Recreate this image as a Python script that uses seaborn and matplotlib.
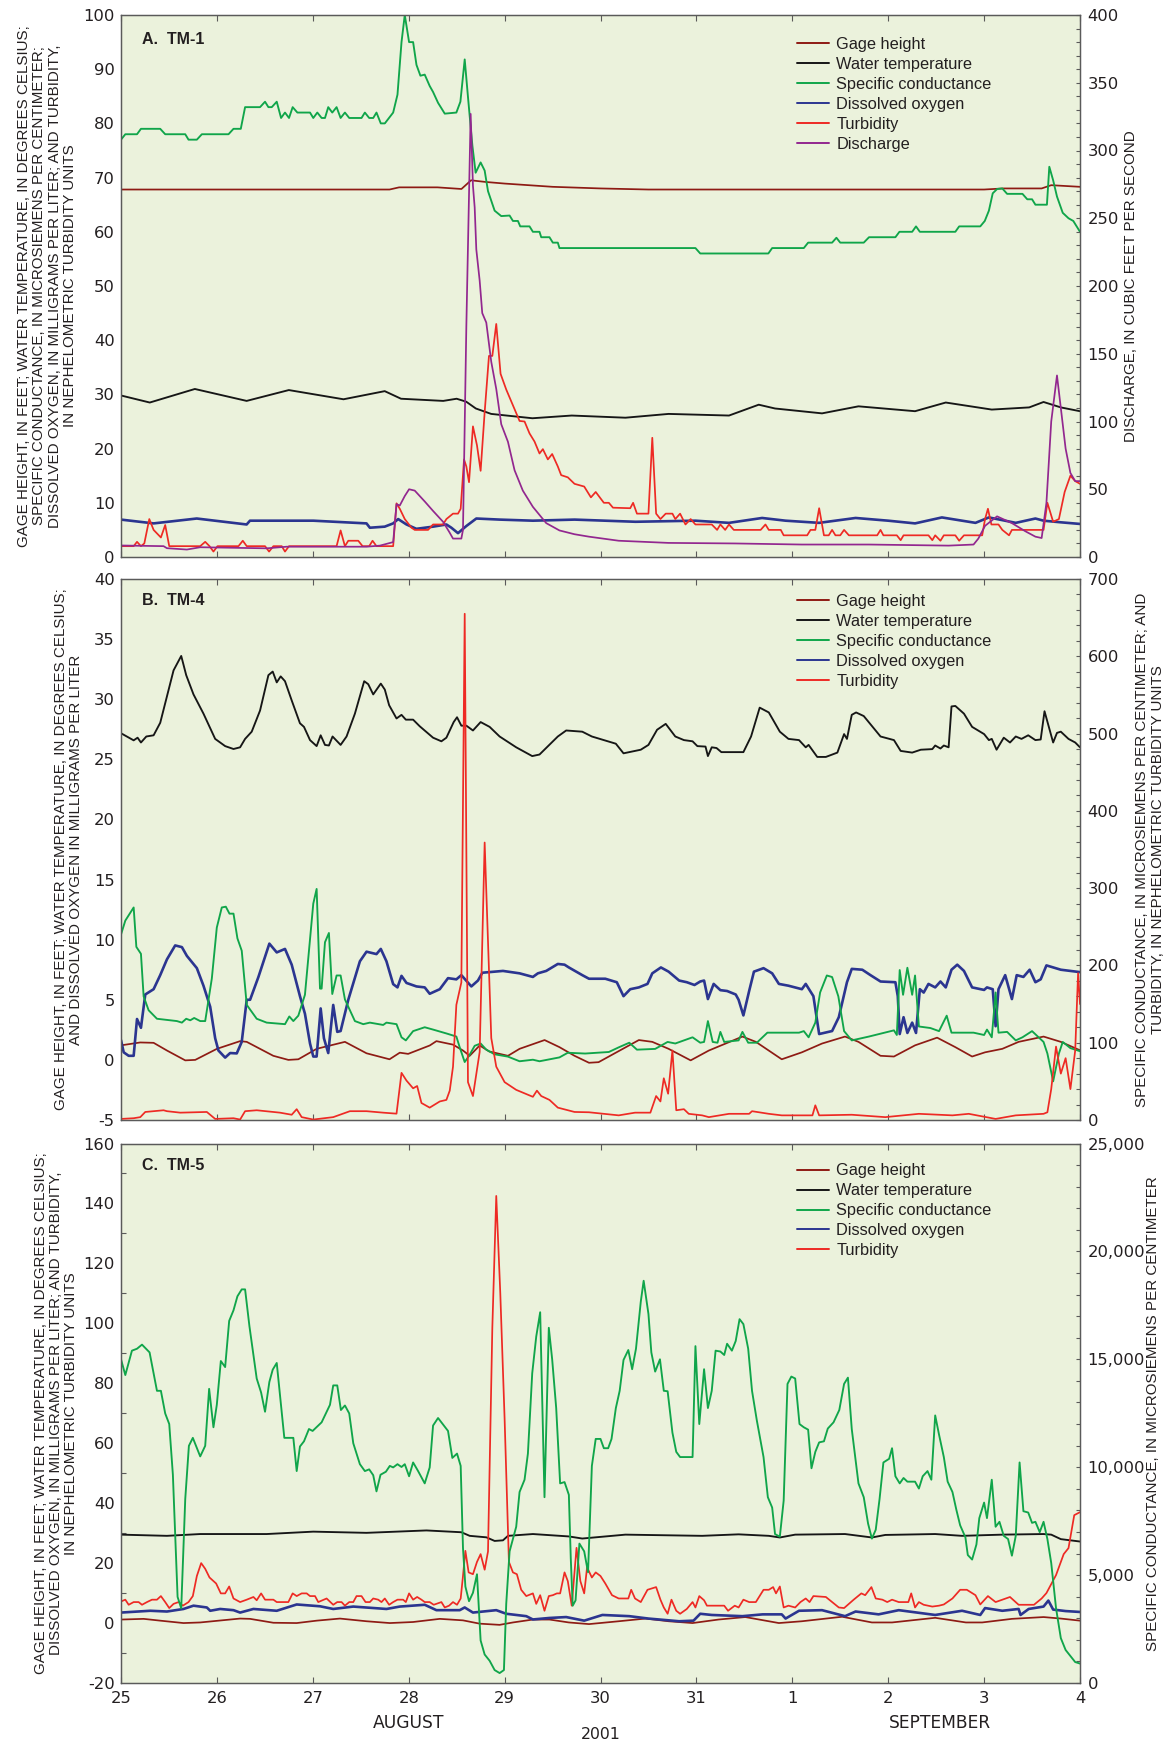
import matplotlib
matplotlib.use("Agg")
import matplotlib.pyplot as plt
import seaborn as sns
from matplotlib import font_manager as fm
from matplotlib.lines import Line2D
from matplotlib.ticker import MultipleLocator, FixedLocator, FuncFormatter

# ---------------- DATA (days after 25 Aug 2001, 00:00) ----------------
X_TICK_LABELS = ["25", "26", "27", "28", "29", "30", "31", "1", "2", "3", "4"]

# ---- Panel A: TM-1 ----
A_gage_t = [0, 2.8, 2.9, 3.3, 3.55, 3.65, 3.8, 4.0, 4.5, 5.0, 5.5, 9.0, 9.2, 9.6, 9.7, 9.8, 10]
A_gage_v = [67.8, 67.8, 68.2, 68.2, 67.9, 69.5, 69.2, 68.9, 68.3, 68.0, 67.8, 67.8, 68.0, 68.0, 68.6, 68.5, 68.3]

A_temp_t = [0, 0.3, 0.77, 1.31, 1.75, 2.32, 2.75, 2.92, 3.36, 3.5, 3.6, 3.7, 3.86, 4.29, 4.7, 5.26, 5.71, 6.34,
            6.65, 6.82, 7.31, 7.69, 8.28, 8.6, 9.08, 9.47, 9.62, 9.8, 10]
A_temp_v = [29.8, 28.5, 31.0, 28.8, 30.8, 29.1, 30.6, 29.2, 28.8, 29.2, 28.65, 27.4, 26.4, 25.6, 26.1, 25.7, 26.4,
            26.1, 28.1, 27.4, 26.5, 27.8, 26.9, 28.5, 27.2, 27.6, 28.6, 27.6, 26.9]

A_sc_t = [0, 0.045, 0.167, 0.208, 0.409, 0.461, 0.670, 0.704, 0.791, 0.843,
          1.121, 1.173, 1.249, 1.294, 1.450, 1.502, 1.537, 1.572, 1.624, 1.669,
          1.710, 1.752, 1.790, 1.839, 1.971, 2.005, 2.047, 2.092, 2.127, 2.161,
          2.203, 2.248, 2.290, 2.335, 2.380, 2.508, 2.543, 2.588, 2.630, 2.664,
          2.709, 2.751, 2.838, 2.883, 2.925, 2.959, 3.004, 3.046, 3.081, 3.122,
          3.167, 3.219, 3.254, 3.306, 3.376, 3.497, 3.539, 3.584, 3.618, 3.664,
          3.698, 3.750, 3.792, 3.827, 3.896, 3.965, 4.052, 4.087, 4.139, 4.163,
          4.260, 4.295, 4.364, 4.382, 4.468, 4.503, 4.555, 4.572, 5.99, 6.04,
          6.75, 6.79, 7.12, 7.165, 7.415, 7.46, 7.50, 7.745, 7.80, 8.075,
          8.117, 8.25, 8.29, 8.33, 8.70, 8.74, 8.96, 9.007, 9.05, 9.09,
          9.136, 9.19, 9.24, 9.40, 9.45, 9.50, 9.535, 9.655, 9.68, 9.72,
          9.76, 9.82, 9.88, 9.93, 10]
A_sc_v = [77, 78, 78, 79, 79, 78, 78, 77, 77, 78,
          78, 79, 79, 83, 83, 84, 83, 83, 84, 81,
          82, 81, 83, 82, 82, 81, 82, 81, 81, 83,
          82, 83, 81, 82, 81, 81, 82, 81, 81, 82,
          80, 80, 82, 85.3, 95, 100, 95, 95, 90.8, 88.8,
          89, 86.9, 85.8, 83.8, 81.8, 82, 84, 91.8, 84.9, 75.9,
          70.9, 72.8, 71.3, 67.5, 63.9, 62.9, 63, 62, 62, 61,
          61, 60, 60, 59, 59, 58, 58, 57, 57, 56,
          56, 57, 57, 58, 58, 58.9, 58, 58, 59, 59,
          60, 60, 61, 60, 60, 61, 61, 62, 63.9, 67.1,
          67.9, 68, 67, 67, 66, 66, 65, 65, 72, 69.5,
          66.5, 63.5, 62.5, 62, 60]

A_do_t = [0, 0.34, 0.79, 1.31, 1.345, 2.005, 2.56, 2.595, 2.75, 2.838, 2.89, 2.977, 3.08, 3.254, 3.393, 3.445,
          3.514, 3.60, 3.705, 3.95, 4.295, 4.73, 5.365, 5.99, 6.34, 6.685, 6.93, 7.28, 7.66, 8.0, 8.28, 8.56,
          8.91, 9.05, 9.33, 9.535, 9.62, 9.8, 10]
A_do_v = [6.9, 6.2, 7.1, 6.0, 6.7, 6.7, 6.2, 5.4, 5.6, 6.2, 7.0, 6.0, 5.2, 5.6, 6.0, 5.4, 4.4, 5.7, 7.1, 6.9,
          6.7, 6.9, 6.5, 6.7, 6.3, 7.2, 6.7, 6.3, 7.2, 6.7, 6.2, 7.3, 6.3, 7.3, 6.3, 7.1, 6.7, 6.4, 6.1]

A_turb_t = [0, 0.132, 0.167, 0.208, 0.243, 0.295, 0.340, 0.416, 0.461, 0.503,
            0.826, 0.878, 0.923, 0.964, 1.006, 1.225, 1.270, 1.311, 1.502, 1.544,
            1.589, 1.676, 1.710, 1.752, 2.248, 2.290, 2.335, 2.370, 2.474, 2.519,
            2.588, 2.623, 2.664, 2.838, 2.873, 2.907, 2.959, 3.029, 3.063, 3.202,
            3.254, 3.358, 3.393, 3.462, 3.514, 3.542, 3.577, 3.601, 3.629, 3.670,
            3.712, 3.750, 3.792, 3.837, 3.872, 3.913, 3.958, 4.017, 4.087, 4.156,
            4.208, 4.260, 4.312, 4.364, 4.399, 4.451, 4.496, 4.555, 4.590, 4.659,
            4.729, 4.83, 4.90, 4.95, 5.035, 5.087, 5.13, 5.31, 5.34, 5.38,
            5.50, 5.54, 5.58, 5.625, 5.68, 5.75, 5.78, 5.83, 5.886, 5.94,
            5.99, 6.16, 6.216, 6.25, 6.30, 6.34, 6.39, 6.67, 6.72, 6.755,
            6.88, 6.91, 7.155, 7.19, 7.24, 7.28, 7.33, 7.38, 7.415, 7.45,
            7.50, 7.54, 7.59, 7.885, 7.92, 7.95, 8.09, 8.13, 8.16, 8.42,
            8.46, 8.49, 8.545, 8.58, 8.70, 8.74, 8.79, 8.98, 9.01, 9.04,
            9.076, 9.15, 9.19, 9.26, 9.29, 9.62, 9.66, 9.72, 9.78, 9.84,
            9.9, 9.95, 10]
A_turb_v = [2, 2, 2.8, 2, 2.5, 7, 5, 3.6, 5.9, 2,
            2, 2.8, 2, 1, 2, 2, 3, 2, 2, 1,
            2, 2, 1, 2, 2, 4.9, 2, 3, 3, 2,
            2, 3, 2, 2, 9.9, 8.9, 7, 5.4, 5, 5,
            6, 6, 7, 8, 8, 8.9, 18, 16.7, 13.8, 24.1,
            20.6, 15.9, 26.7, 37.1, 37.1, 43, 33.8, 30.9, 28, 25.1,
            25, 22.8, 21.3, 19.1, 19.9, 18, 19, 16.7, 15.1, 14.7,
            13.5, 13, 11, 12, 10, 10, 9.1, 9, 10, 8,
            8, 22, 8, 7, 8, 8, 7, 8, 6, 7,
            6, 6, 5, 6, 5, 6, 5, 5, 6, 5,
            5, 4, 4, 5, 5, 9, 4, 4, 5, 4,
            4, 5, 4, 4, 5, 4, 4, 3.1, 4, 4,
            3.1, 4, 3, 4, 4, 3, 4, 4, 7, 8.9,
            6, 6, 5, 4, 5, 5, 10, 6.5, 7, 12,
            15, 14, 13.5]

A_dis_t = [0, 0.444, 0.479, 0.687, 0.826, 1.519, 1.728, 2.56, 2.70, 2.838,
           2.873, 2.907, 2.959, 3.004, 3.063, 3.167, 3.254, 3.358, 3.427, 3.462,
           3.549, 3.566, 3.601, 3.646, 3.670, 3.688, 3.705, 3.74, 3.767, 3.809,
           3.861, 3.913, 3.965, 4.035, 4.104, 4.19, 4.295, 4.434, 4.572, 4.729,
           4.88, 5.19, 5.71, 6.40, 7.10, 7.80, 8.63, 8.89, 8.94, 9.01,
           9.135, 9.29, 9.43, 9.535, 9.6, 9.65, 9.7, 9.76, 9.8, 9.85,
           9.9, 9.95, 10]
A_dis_v = [8.5, 8, 6.5, 5.5, 7.2, 6.4, 7.6, 7.6, 8.4, 11,
           39, 38, 45, 50, 49, 41, 34, 26, 18, 13.6,
           13.6, 20, 170, 327, 274, 258, 227, 204, 180, 173,
           144, 124, 98, 85, 64, 49, 37, 25, 19.6, 16.8,
           15, 12, 10.4, 10, 9.2, 9.2, 8.4, 9.2, 13.6, 23,
           30, 25, 19, 15, 14, 40, 100, 134, 110, 80,
           62, 56, 56]

# ---- Panel B: TM-4 ----
B_gage_t = [0, 0.2, 0.34, 0.479, 0.67, 0.774, 1.0, 1.242, 1.311, 1.588,
            1.745, 1.849, 2.04, 2.335, 2.56, 2.80, 2.907, 2.994, 3.22, 3.289,
            3.462, 3.566, 3.636, 3.74, 3.84, 4.035, 4.156, 4.417, 4.572, 4.729,
            4.88, 4.98, 5.16, 5.40, 5.54, 5.71, 5.94, 6.13, 6.48, 6.62,
            6.89, 7.10, 7.31, 7.55, 7.69, 7.92, 8.06, 8.28, 8.51, 8.70,
            8.875, 9.01, 9.19, 9.36, 9.62, 9.8, 10]
B_gage_v = [1.21, 1.45, 1.42, 0.78, -0.04, 0, 0.92, 1.56, 1.5, 0.34,
            0, 0.05, 0.92, 1.5, 0.55, 0.05, 0.6, 0.5, 1.2, 1.56,
            1.27, 0.78, 0.34, 1.2, 0.7, 0.34, 0.92, 1.65, 1.06, 0.34,
            -0.24, -0.19, 0.6, 1.65, 1.5, 0.92, -0.04, 0.78, 1.94, 1.5,
            0.05, 0.63, 1.36, 1.94, 1.5, 0.34, 0.28, 1.21, 1.85, 1.06,
            0.28, 0.63, 0.92, 1.5, 1.94, 1.5, 0.8]

B_temp_t = [0, 0.132, 0.173, 0.208, 0.264, 0.340, 0.409, 0.479, 0.548, 0.628,
            0.680, 0.756, 0.860, 0.982, 1.086, 1.173, 1.242, 1.294, 1.363, 1.450,
            1.537, 1.582, 1.624, 1.665, 1.710, 1.780, 1.866, 1.908, 1.971, 2.040,
            2.082, 2.127, 2.168, 2.206, 2.290, 2.352, 2.439, 2.536, 2.578, 2.630,
            2.709, 2.751, 2.796, 2.873, 2.925, 2.970, 3.046, 3.115, 3.254, 3.341,
            3.393, 3.469, 3.504, 3.549, 3.601, 3.670, 3.750, 3.844, 3.948, 4.121,
            4.288, 4.364, 4.555, 4.642,
            4.81, 4.91, 5.16, 5.24, 5.42, 5.50, 5.59, 5.68, 5.78, 5.87,
            5.96, 6.01, 6.095, 6.12, 6.16, 6.21, 6.26, 6.49, 6.57, 6.66,
            6.755, 6.87, 6.96, 7.07, 7.14, 7.17, 7.26, 7.35, 7.47, 7.54,
            7.57, 7.62, 7.665, 7.745, 7.92, 8.06, 8.13, 8.25, 8.34, 8.46,
            8.49, 8.545, 8.58, 8.63, 8.66, 8.70, 8.79, 8.875, 9.0, 9.05,
            9.08, 9.13, 9.205, 9.27, 9.33, 9.39, 9.46, 9.535, 9.59, 9.63,
            9.72, 9.76, 9.80, 9.88, 9.95, 10]
B_temp_v = [27.17, 26.58, 26.8, 26.4, 26.9, 27.0, 28.04, 30.23, 32.4, 33.6,
            32.0, 30.4, 28.8, 26.7, 26.1, 25.86, 26.0, 26.7, 27.3, 29.06,
            32.0, 32.3, 31.4, 31.9, 31.5, 29.9, 28.0, 27.7, 26.6, 26.1,
            27.0, 26.2, 26.15, 26.9, 26.2, 26.9, 28.8, 31.5, 31.25, 30.4,
            31.3, 30.8, 29.5, 28.4, 28.7, 28.3, 28.3, 27.75, 26.8, 26.5,
            26.8, 28.1, 28.5, 27.8, 27.8, 27.4, 28.1, 27.7, 26.9, 26.0,
            25.27, 25.4, 26.9, 27.4,
            27.3, 26.9, 26.3, 25.5, 25.8, 26.2, 27.46, 27.95, 26.9, 26.6,
            26.5, 26.1, 26.06, 25.27, 26.0, 25.94, 25.6, 25.6, 26.9, 29.3,
            28.9, 27.3, 26.7, 26.6, 26.0, 26.2, 25.2, 25.2, 25.56, 27.1,
            26.7, 28.7, 28.9, 28.6, 26.9, 26.6, 25.7, 25.56, 25.8, 25.85,
            26.15, 25.9, 26.15, 26.0, 29.4, 29.44, 28.8, 27.7, 27.1, 26.6,
            26.7, 25.8, 26.8, 26.4, 26.9, 26.7, 27.0, 26.6, 26.65, 29.0,
            26.4, 27.2, 27.3, 26.7, 26.4, 26.0]

# specific conductance (microsiemens per centimeter, right axis)
B_sc_t = [0, 0.045, 0.132, 0.160, 0.208, 0.236, 0.288, 0.375, 0.583, 0.635,
          0.680, 0.722, 0.763, 0.826, 0.878, 0.947, 0.999, 1.051, 1.093, 1.131,
          1.173, 1.214, 1.259, 1.311, 1.415, 1.519, 1.710, 1.755, 1.797, 1.849,
          1.918, 1.964, 2.005, 2.040, 2.075, 2.092, 2.127, 2.168, 2.203, 2.248,
          2.290, 2.335, 2.439, 2.526, 2.595, 2.734, 2.768, 2.873, 2.925, 2.970,
          3.046, 3.167, 3.254, 3.393, 3.497, 3.532, 3.584, 3.629, 3.688, 3.750,
          3.809, 3.896, 4.035, 4.156, 4.295, 4.364, 4.572, 4.659,
          4.84, 5.087, 5.19, 5.30, 5.38, 5.57, 5.70, 5.78, 5.87, 5.96,
          6.04, 6.08, 6.12, 6.17, 6.22, 6.25, 6.29, 6.44, 6.48, 6.54,
          6.63, 6.74, 6.89, 7.07, 7.12, 7.17, 7.24, 7.29, 7.36, 7.415,
          7.48, 7.54, 7.62, 7.80, 8.06, 8.09, 8.12, 8.155, 8.20, 8.25,
          8.28, 8.32, 8.44, 8.53, 8.61, 8.66, 8.89, 9.0, 9.03, 9.08,
          9.12, 9.15, 9.24, 9.33, 9.40, 9.50, 9.62, 9.66, 9.72, 9.78,
          9.82, 9.9, 10]
B_sc_v = [240, 258, 275, 224, 215, 160, 142, 131, 128, 126,
          131, 129, 132, 128, 128, 183, 249, 275, 276, 267,
          267, 235, 219, 149, 131, 126, 124, 134, 128, 135,
          162, 224, 280, 299, 170, 170, 230, 242, 163, 187,
          187, 156, 128, 124, 126, 123, 126, 124, 107, 103,
          115, 120, 117, 112, 108, 94, 75, 83, 96, 99,
          91, 85, 82, 76, 78, 76, 81, 87,
          86, 88, 94, 100, 91, 92, 101, 99, 103, 107,
          100, 101, 128, 101, 100, 114, 101, 103, 114, 100,
          100, 113, 113, 113, 115, 107, 126, 165, 187, 185,
          160, 115, 103, 108, 116, 110, 194, 162, 197, 162,
          187, 121, 119, 115, 135, 113, 113, 110, 117, 107,
          165, 113, 114, 103, 107, 115, 101, 86, 50, 86,
          101, 93, 89]

B_do_t = [0, 0.028, 0.080, 0.132, 0.167, 0.208, 0.253, 0.340, 0.409, 0.479,
          0.565, 0.635, 0.687, 0.791, 0.860, 0.930, 0.982, 1.016, 1.086, 1.138,
          1.207, 1.259, 1.311, 1.346, 1.433, 1.547, 1.624, 1.710, 1.780, 1.866,
          1.918, 1.971, 2.005, 2.040, 2.082, 2.116, 2.161, 2.213, 2.255, 2.290,
          2.370, 2.491, 2.560, 2.664, 2.709, 2.768, 2.838, 2.883, 2.925, 2.977,
          3.081, 3.167, 3.219, 3.324, 3.410, 3.497, 3.549, 3.653, 3.722, 3.768,
          3.983, 4.156, 4.295, 4.347, 4.434, 4.555, 4.625,
          4.67, 4.81, 4.88, 5.05, 5.17, 5.24, 5.31, 5.40, 5.49, 5.54,
          5.63, 5.71, 5.82, 5.90, 5.98, 6.04, 6.08, 6.12, 6.18, 6.25,
          6.32, 6.41, 6.44, 6.49, 6.55, 6.60, 6.70, 6.79, 6.86, 6.96,
          7.10, 7.14, 7.22, 7.28, 7.415, 7.485, 7.54, 7.57, 7.62, 7.73,
          7.815, 7.92, 8.075, 8.10, 8.12, 8.16, 8.20, 8.25, 8.29, 8.33,
          8.37, 8.42, 8.49, 8.545, 8.60, 8.66, 8.72, 8.79, 8.875, 9.0,
          9.03, 9.09, 9.12, 9.15, 9.22, 9.29, 9.34, 9.41, 9.475, 9.535,
          9.59, 9.65, 9.8, 10]
B_do_v = [1.65, 0.63, 0.34, 0.34, 3.4, 2.67, 5.44, 5.88, 7.05, 8.36,
          9.52, 9.38, 8.65, 7.63, 6.17, 4.42, 1.8, 0.78, 0.19, 0.57,
          0.54, 1.5, 5.0, 5.0, 6.9, 9.67, 8.94, 9.23, 7.92, 5.3,
          3.84, 1.36, 0.28, 0.28, 4.28, 1.8, 0.57, 4.57, 2.33, 2.4,
          5.0, 8.2, 9.0, 8.8, 9.23, 8.2, 6.3, 6.03, 6.99, 6.4,
          6.11, 6.03, 5.5, 5.88, 6.8, 6.7, 7.05, 6.11, 6.6, 7.25,
          7.4, 7.2, 6.9, 7.2, 7.4, 7.98, 7.92,
          7.69, 7.05, 6.75, 6.75, 6.46, 5.3, 5.88, 6.03, 6.32, 7.2,
          7.69, 7.34, 6.6, 6.46, 6.23, 6.52, 6.6, 5.06, 6.32, 5.8,
          5.73, 5.44, 5.0, 3.7, 5.73, 7.34, 7.63, 7.2, 6.32, 6.17,
          5.88, 6.32, 5.3, 2.15, 2.4, 3.55, 5.44, 6.46, 7.57, 7.5,
          7.05, 6.52, 6.46, 5.3, 2.15, 3.55, 2.24, 3.1, 2.24, 5.88,
          5.6, 6.32, 6.03, 6.52, 6.03, 7.5, 7.92, 7.4, 6.03, 5.82,
          6.03, 5.88, 2.8, 5.88, 7.05, 5.06, 7.05, 6.9, 7.5, 6.46,
          6.7, 7.86, 7.5, 7.3]

# turbidity (nephelometric turbidity units, right axis)
B_turb_t = [0, 0.132, 0.201, 0.253, 0.444, 0.479, 0.618, 0.895, 0.982, 1.173,
            1.242, 1.294, 1.415, 1.658, 1.780, 1.832, 1.884, 2.005, 2.213, 2.387,
            2.560, 2.734, 2.873, 2.925, 2.977, 3.046, 3.088, 3.133, 3.219, 3.324,
            3.393, 3.428, 3.462, 3.497, 3.549, 3.584, 3.618, 3.670, 3.740, 3.792,
            3.861, 3.913, 4.0, 4.121, 4.295, 4.337, 4.382, 4.468, 4.555, 4.729,
            4.88, 5.19, 5.36, 5.52, 5.58, 5.625, 5.66, 5.705, 5.75, 5.79,
            5.87, 5.92, 6.06, 6.13, 6.34, 6.55, 6.58, 6.755, 6.89, 7.21,
            7.24, 7.28, 7.62, 7.97, 8.32, 8.67, 8.84, 9.12, 9.33, 9.62,
            9.66, 9.7, 9.75, 9.8, 9.85, 9.9, 9.95, 9.98, 10]
B_turb_v = [1.4, 2.3, 3.7, 10.4, 12.6, 11.4, 9.5, 10.4, 1.4, 2.3,
            0.6, 11.4, 12.6, 9.5, 6.8, 14, 3.7, 0.6, 3.7, 11.4,
            11.4, 9.5, 8.2, 61, 51, 41, 44, 22, 16, 24,
            26, 38, 69, 149, 178, 655, 49, 31, 88, 359,
            106, 69, 49, 39, 30, 38, 31, 26, 16, 10.4,
            10, 6, 9.5, 9.5, 31, 24, 54, 34, 90, 12.6,
            14, 8, 6, 3.7, 8, 8, 11.4, 8, 6, 6,
            19, 6, 6.8, 3.7, 8, 6, 8, 1.4, 6, 8,
            10, 40, 95, 60, 80, 40, 90, 190, 150]

# ---- Panel C: TM-5 ----
C_gage_t = [0, 0.236, 0.409, 0.652, 0.826, 1.242, 1.346, 1.589, 1.832, 2.040,
            2.283, 2.56, 2.803, 3.046, 3.324, 3.566, 3.740, 3.948, 4.087, 4.295,
            4.468, 4.67, 4.88, 5.19, 5.47, 5.71, 5.96, 6.23, 6.51, 6.86,
            7.10, 7.52, 7.83, 8.04, 8.49, 8.81, 8.98, 9.29, 9.62, 9.8, 10]
C_gage_v = [1.17, 1.4, 0.8, 0, 0.2, 1.5, 1.4, 0.1, 0, 0.8,
            1.5, 0.6, 0, 0.35, 1.4, 0.9, -0.2, -0.6, 0.2, 1.17,
            1.17, 0.2, -0.35, 0.6, 1.5, 0.6, 0, 1.17, 2.0, 0,
            0.6, 2.1, 0.2, 0.2, 1.75, 0.2, 0.2, 1.4, 2.0, 1.5, 0.8]

C_temp_t = [0, 0.479, 0.826, 1.519, 2.005, 2.56, 3.185, 3.549, 3.636, 3.81,
            3.896, 3.983, 4.035, 4.295, 4.67, 4.81, 5.26, 6.06, 6.44, 6.755,
            6.87, 7.03, 7.55, 7.83, 7.97, 8.49, 8.77, 9.19, 9.62, 9.7, 9.8, 10]
C_temp_v = [29.5, 29.1, 29.7, 29.7, 30.5, 30.1, 30.9, 30.3, 29.1, 28.6,
            27.4, 27.6, 29.1, 29.7, 28.9, 28.2, 29.5, 29.1, 29.6, 29.1,
            28.55, 29.5, 29.7, 28.55, 29.4, 29.7, 29.1, 29.5, 29.7, 29.5, 28.0, 27.2]

# specific conductance (microsiemens per centimeter, right axis)
C_sc_t = [0, 0.045, 0.114, 0.167, 0.219, 0.298, 0.340, 0.375, 0.416, 0.461,
          0.503, 0.541, 0.590, 0.628, 0.670, 0.708, 0.749, 0.826, 0.878, 0.919,
          0.964, 0.999, 1.041, 1.086, 1.128, 1.173, 1.214, 1.259, 1.294, 1.339,
          1.415, 1.461, 1.502, 1.547, 1.582, 1.624, 1.703, 1.797, 1.832, 1.866,
          1.908, 1.960, 1.998, 2.092, 2.179, 2.213, 2.255, 2.293, 2.335, 2.380,
          2.422, 2.491, 2.543, 2.588, 2.630, 2.664, 2.706, 2.762, 2.803, 2.838,
          2.883, 2.925, 2.959, 3.004, 3.046, 3.098, 3.167, 3.219, 3.254, 3.306,
          3.410, 3.455, 3.504, 3.542, 3.566, 3.591, 3.629, 3.670, 3.712, 3.750,
          3.792, 3.844, 3.896, 3.948, 3.993, 4.017, 4.052, 4.121, 4.156, 4.208,
          4.243, 4.288, 4.330, 4.371, 4.416, 4.461, 4.496, 4.538, 4.579, 4.625,
          4.670,
          4.69, 4.71, 4.74, 4.78, 4.83, 4.87, 4.91, 4.95, 5.0, 5.035,
          5.08, 5.115, 5.16, 5.20, 5.24, 5.29, 5.33, 5.37, 5.42, 5.45,
          5.50, 5.53, 5.57, 5.62, 5.66, 5.70, 5.75, 5.79, 5.83, 5.96,
          5.99, 6.03, 6.08, 6.12, 6.16, 6.20, 6.25, 6.29, 6.32, 6.37,
          6.41, 6.45, 6.49, 6.54, 6.58, 6.63, 6.70, 6.745, 6.79, 6.82,
          6.87, 6.91, 6.95, 6.99, 7.03, 7.075, 7.12, 7.165, 7.20, 7.24,
          7.28, 7.33, 7.37, 7.43, 7.49, 7.54, 7.58, 7.62, 7.69, 7.745,
          7.79, 7.83, 7.87, 7.91, 7.95, 8.01, 8.04, 8.075, 8.12, 8.16,
          8.20, 8.28, 8.32, 8.36, 8.41, 8.45, 8.49, 8.53, 8.58, 8.62,
          8.67, 8.71, 8.75, 8.805, 8.83, 8.875, 8.92, 8.95, 9.0, 9.03,
          9.08, 9.12, 9.16, 9.205, 9.25, 9.29, 9.33, 9.37, 9.41, 9.46,
          9.50, 9.535, 9.58, 9.62, 9.66, 9.7, 9.75, 9.8, 9.85, 9.9,
          9.95, 10]
C_sc_v = [15000, 14270, 15400, 15490, 15680, 15320, 14350, 13540, 13540, 12490,
          12000, 9650, 3990, 3460, 8530, 10990, 11360, 10500, 10990, 13630,
          11850, 12890, 14920, 14640, 16780, 17270, 17920, 18240, 18240, 16540,
          14110, 13460, 12570, 13950, 14520, 14830, 11360, 11360, 9820, 10960,
          11200, 11770, 11680, 12080, 12890, 13790, 13790, 12650, 12860, 12490,
          11110, 10140, 9820, 9900, 9630, 8880, 9650, 9790, 10060, 9990,
          10140, 10010, 10140, 9580, 10220, 9820, 9250, 9990, 11930, 12280,
          11680, 10430, 10630, 10060, 6260, 4470, 3790, 4180, 5040, 1970,
          1320, 1030, 600, 460, 600, 3670, 6100, 7240, 8850, 9420,
          10630, 14350, 16060, 17180, 8610, 16460, 15000, 12740, 9250, 9310,
          8720,
          5780, 3580, 3830, 6460, 6100, 5130, 10060, 11310, 11310, 10880,
          10880, 11310, 12740, 13540, 14970, 15430, 14540, 15490, 17670, 18640,
          17100, 15320, 14430, 15000, 13540, 13520, 11600, 10710, 10470, 10470,
          15610, 12000, 14540, 12740, 13540, 15400, 15360, 15200, 15720, 15400,
          15850, 16860, 16630, 15490, 13540, 12170, 10470, 8610, 8130, 6900,
          6780, 8450, 13860, 14200, 14110, 12000, 11850, 11740, 9950, 10710,
          11150, 11200, 11790, 12080, 12650, 13860, 14150, 11770, 9250, 8610,
          7390, 6690, 7100, 8530, 10220, 10390, 10880, 9580, 9250, 9500,
          9330, 9330, 9010, 9580, 9820, 9420, 12400, 11510, 10470, 9330,
          8850, 8040, 7310, 6750, 5930, 5720, 6420, 7640, 8360, 7640,
          9420, 7240, 7470, 6820, 6670, 5900, 6820, 10220, 7960, 7900,
          7420, 7470, 6990, 7470, 6670, 5560, 3470, 2080, 1530, 1250,
          970, 900]

C_do_t = [0, 0.305, 0.479, 0.652, 0.756, 0.895, 0.930, 1.034, 1.173, 1.242,
          1.381, 1.624, 1.832, 2.075, 2.213, 2.422, 2.768, 2.907, 3.167, 3.289,
          3.532, 3.584, 3.670, 3.913, 4.017, 4.226, 4.295, 4.468, 4.642, 4.83,
          5.02, 5.30, 5.50, 5.82, 5.97, 6.04, 6.16, 6.48, 6.69, 6.89,
          6.93, 7.07, 7.31, 7.55, 7.66, 7.90, 8.11, 8.49, 8.77, 8.96,
          9.01, 9.19, 9.36, 9.38, 9.465, 9.62, 9.67, 9.72, 9.85, 10]
C_do_v = [3.5, 4.1, 3.85, 4.7, 5.8, 5.2, 4.1, 4.7, 4.3, 3.5,
          4.7, 4.1, 6.2, 5.6, 4.7, 5.5, 4.7, 5.5, 6.1, 4.3,
          4.3, 5.2, 3.5, 4.3, 3.1, 2.3, 1.2, 1.7, 2.0, 0.8,
          2.7, 2.3, 1.5, 0.6, 0.8, 3.1, 2.7, 2.3, 2.9, 2.9,
          1.5, 4.1, 4.3, 2.3, 3.85, 2.9, 4.3, 2.7, 4.1, 2.7,
          5, 4.1, 4.7, 2.7, 4.7, 5.5, 7.5, 4.5, 4.0, 3.7]

C_turb_t = [0, 0.045, 0.080, 0.132, 0.184, 0.219, 0.271, 0.323, 0.375, 0.416,
            0.461, 0.503, 0.548, 0.600, 0.645, 0.704, 0.749, 0.791, 0.836, 0.878,
            0.923, 0.992, 1.041, 1.086, 1.128, 1.173, 1.242, 1.311, 1.381, 1.415,
            1.461, 1.502, 1.589, 1.624, 1.745, 1.790, 1.832, 1.884, 1.936, 1.971,
            2.023, 2.057, 2.144, 2.213, 2.255, 2.300, 2.335, 2.380, 2.422, 2.456,
            2.508, 2.550, 2.595, 2.630, 2.682, 2.716, 2.751, 2.796, 2.838, 2.883,
            2.942, 2.970, 3.004, 3.046, 3.088, 3.133, 3.167, 3.219, 3.261, 3.306,
            3.341, 3.376, 3.421, 3.462, 3.504, 3.542, 3.566, 3.591, 3.625, 3.670,
            3.712, 3.750, 3.792, 3.827, 3.872, 3.913, 3.955, 4.0, 4.045, 4.087,
            4.128, 4.173, 4.226, 4.295, 4.330, 4.371, 4.416, 4.461, 4.503, 4.545,
            4.579, 4.625, 4.659,
            4.70, 4.75, 4.79, 4.83, 4.86, 4.91, 4.95, 5.0, 5.05, 5.12,
            5.19, 5.29, 5.32, 5.36, 5.42, 5.49, 5.58, 5.625, 5.66, 5.70,
            5.74, 5.79, 5.83, 5.90, 5.96, 5.99, 6.03, 6.08, 6.11, 6.29,
            6.33, 6.40, 6.44, 6.49, 6.55, 6.62, 6.70, 6.755, 6.80, 6.83,
            6.87, 6.91, 6.96, 7.03, 7.085, 7.14, 7.18, 7.22, 7.35, 7.415,
            7.485, 7.54, 7.59, 7.64, 7.72, 7.76, 7.825, 7.87, 7.94, 7.99,
            8.04, 8.11, 8.21, 8.24, 8.28, 8.32, 8.37, 8.46, 8.53, 8.58,
            8.67, 8.75, 8.82, 8.91, 8.96, 9.04, 9.12, 9.19, 9.27, 9.36,
            9.52, 9.60, 9.65, 9.75, 9.83, 9.88, 9.94, 10]
C_turb_v = [7.2, 7.8, 6.1, 7, 7, 6.1, 7, 7.8, 7.8, 9,
            7, 5, 6.4, 7, 5.8, 7, 9, 15.7, 20, 18.1,
            15.2, 13.2, 9.9, 9.9, 12.2, 8.2, 7, 7.8, 8.7, 7.6,
            9.9, 7.8, 7.8, 7, 7, 9.9, 9, 9.9, 9.9, 9,
            9, 7, 8.2, 6.1, 7, 7, 5.8, 7, 7, 9,
            9, 7, 7, 8.2, 7.8, 7, 8.2, 6.1, 7, 7.8,
            7.8, 7, 9.9, 7.8, 8.7, 7.8, 7, 7, 6.1, 6.6,
            7, 5.2, 5.8, 7, 6.1, 8.2, 15.7, 24.1, 16.9, 16.3,
            20.4, 23, 17.8, 23.9, 98.5, 142.5, 110.1, 68.2, 20.4, 16.9,
            16.3, 11.1, 9, 9.9, 6.4, 9.3, 4.1, 9, 9.3, 9.9,
            9.9, 16.9, 14,
            5.8, 25.1, 14, 9.9, 18.6, 15.2, 16.9, 15.7, 13.2, 9.3,
            8.2, 8.2, 11.1, 8.2, 7, 11.1, 12, 7.8, 5.2, 3.1,
            7.8, 4.1, 3.1, 4.7, 7, 5.2, 9, 7.6, 5.8, 5.8,
            4.1, 5.8, 5.2, 7.8, 7, 7, 11.1, 11.1, 12, 9.9,
            12.2, 5.2, 5.8, 5.2, 7, 8.2, 7, 9, 8.7, 7,
            5.2, 5, 6.4, 7.8, 9.9, 9.3, 12, 8.2, 7.8, 7,
            7.8, 7, 7, 9.9, 5.2, 7, 6.1, 5.5, 5.8, 6.2,
            8.2, 11.1, 11.1, 9.3, 6.2, 9, 7, 7.8, 8.7, 6.1,
            6.1, 8.2, 10, 16, 23, 25, 36, 37]

LEGEND_A = ["Gage height", "Water temperature", "Specific conductance", "Dissolved oxygen", "Turbidity", "Discharge"]
LEGEND_BC = LEGEND_A[:5]

# ---------------- STYLE ----------------
sns.set_theme(style="white")
avail = {f.name for f in fm.fontManager.ttflist}
NARROW = "Liberation Sans Narrow" if "Liberation Sans Narrow" in avail else "DejaVu Sans"
REG = "Liberation Sans" if "Liberation Sans" in avail else "DejaVu Sans"
plt.rcParams["font.family"] = [NARROW, "DejaVu Sans"]
plt.rcParams["axes.unicode_minus"] = False

BG = "#ebf2dc"
SPINE = "#5a5a5a"
TXT = "#231f20"
COL = {"gage": "#8e1b14", "temp": "#161616", "sc": "#10a54a", "do": "#2b3590",
       "turb": "#ee2a24", "dis": "#92278f"}
LW = {"gage": 1.25, "temp": 1.35, "sc": 1.35, "do": 1.9, "turb": 1.25, "dis": 1.25}
KEYS = ["gage", "temp", "sc", "do", "turb", "dis"]

W, H = 1169, 1741
fig = plt.figure(figsize=(W / 100, H / 100), dpi=100)
fig.patch.set_facecolor("white")

LEFT, RIGHT = 121, 1080
panels_px = [(15, 557), (579, 1120), (1143.5, 1683)]


def make_axes(top, bottom):
    return fig.add_axes([LEFT / W, 1 - bottom / H, (RIGHT - LEFT) / W, (bottom - top) / H])


def draw(ax, t, v, key):
    sns.lineplot(x=t, y=v, ax=ax, color=COL[key], linewidth=LW[key], estimator=None,
                 sort=False, legend=False)


def style(ax, ax2, ylim, ystep, y2lim, y2major, y2minor, yminor=None, xlabels=False, fmt2=None):
    ax.set_facecolor(BG)
    ax.set_xlim(0, 10)
    ax.set_ylim(*ylim)
    ax.yaxis.set_major_locator(MultipleLocator(ystep))
    ax.xaxis.set_major_locator(FixedLocator(list(range(11))))
    ax.set_xlabel("")
    ax.set_ylabel("")
    ax2.set_ylabel("")
    ax.grid(False)
    ax2.grid(False)
    for a in (ax, ax2):
        for s in a.spines.values():
            s.set_color(SPINE)
            s.set_linewidth(0.9)
            s.set_visible(True)
    ax.tick_params(axis="x", which="major", direction="in", top=True, bottom=True,
                   length=4.5, width=0.8, color=SPINE, labelsize=11.8, labelcolor=TXT, pad=6,
                   labelbottom=xlabels)
    ax.tick_params(axis="y", which="major", direction="in", left=True, length=0, width=0.8,
                   color=SPINE, labelsize=11.8, labelcolor=TXT, pad=4.5)
    if yminor:
        ax.yaxis.set_minor_locator(MultipleLocator(yminor))
        ax.tick_params(axis="y", which="minor", direction="in", left=True, length=3.5,
                       width=0.8, color=SPINE)
    if xlabels:
        ax.set_xticklabels(X_TICK_LABELS)
    ax2.set_ylim(*y2lim)
    ax2.yaxis.set_major_locator(MultipleLocator(y2major))
    ax2.yaxis.set_minor_locator(MultipleLocator(y2minor))
    ax2.tick_params(axis="y", which="both", direction="in", right=True, length=3,
                    width=0.8, color=SPINE, labelsize=11.8, labelcolor=TXT, pad=5.5)
    if fmt2:
        ax2.yaxis.set_major_formatter(FuncFormatter(fmt2))


def add_legend(ax2, labels, keys, top_frac):
    handles = [Line2D([0], [0], color=COL[k], lw=1.4) for k in keys]
    leg = ax2.legend(handles, labels, loc="upper left", bbox_to_anchor=(0.705, top_frac),
                     frameon=False, borderpad=0, borderaxespad=0, handlelength=1.95,
                     handletextpad=0.45, labelspacing=0.3,
                     prop=fm.FontProperties(family=REG, size=11.8))
    for txt in leg.get_texts():
        txt.set_color(TXT)


def panel_label(ax, text, yfrac):
    ax.text(0.022, yfrac, text, transform=ax.transAxes, fontsize=11.5, fontweight="bold",
            family=REG, color=TXT, va="center", ha="left")


def clear_legend(ax):
    lg = ax.get_legend()
    if lg is not None:
        lg.remove()


# ---- Panel A ----
axA = make_axes(*panels_px[0])
axA2 = axA.twinx()
draw(axA, A_gage_t, A_gage_v, "gage")
draw(axA, A_temp_t, A_temp_v, "temp")
draw(axA, A_sc_t, A_sc_v, "sc")
draw(axA, A_do_t, A_do_v, "do")
draw(axA, A_turb_t, A_turb_v, "turb")
draw(axA2, A_dis_t, A_dis_v, "dis")
clear_legend(axA); clear_legend(axA2)
style(axA, axA2, (0, 100), 10, (0, 400), 50, 10)
add_legend(axA2, LEGEND_A, KEYS, 0.959)
panel_label(axA, "A.  TM-1", 0.954)

# ---- Panel B ----
axB = make_axes(*panels_px[1])
axB2 = axB.twinx()
draw(axB, B_gage_t, B_gage_v, "gage")
draw(axB, B_temp_t, B_temp_v, "temp")
draw(axB, B_do_t, B_do_v, "do")
draw(axB2, B_sc_t, B_sc_v, "sc")
draw(axB2, B_turb_t, B_turb_v, "turb")
clear_legend(axB); clear_legend(axB2)
style(axB, axB2, (-5, 40), 5, (0, 700), 100, 20)
add_legend(axB2, LEGEND_BC, KEYS[:5], 0.972)
panel_label(axB, "B.  TM-4", 0.960)

# ---- Panel C ----
axC = make_axes(*panels_px[2])
axC2 = axC.twinx()
draw(axC, C_gage_t, C_gage_v, "gage")
draw(axC, C_temp_t, C_temp_v, "temp")
draw(axC, C_do_t, C_do_v, "do")
draw(axC, C_turb_t, C_turb_v, "turb")
draw(axC2, C_sc_t, C_sc_v, "sc")
clear_legend(axC); clear_legend(axC2)
style(axC, axC2, (-20, 160), 20, (0, 25000), 5000, 1000, yminor=10, xlabels=True,
      fmt2=lambda x, p: f"{x:,.0f}")
add_legend(axC2, LEGEND_BC, KEYS[:5], 0.963)
panel_label(axC, "C.  TM-5", 0.959)

# ---- Axis titles ----
lab_kw = dict(rotation=90, ha="center", va="center", multialignment="center",
              family=REG, fontsize=10.9, color=TXT, linespacing=1.13)


def fy(top, bottom):
    return 1 - (top + bottom) / 2 / H


fig.text(47 / W, fy(*panels_px[0]),
         "GAGE HEIGHT, IN FEET; WATER TEMPERATURE, IN DEGREES CELSIUS;\n"
         "SPECIFIC CONDUCTANCE, IN MICROSIEMENS PER CENTIMETER;\n"
         "DISSOLVED OXYGEN, IN MILLIGRAMS PER LITER; AND TURBIDITY,\n"
         "IN NEPHELOMETRIC TURBIDITY UNITS", **lab_kw)
fig.text(1131 / W, fy(*panels_px[0]), "DISCHARGE, IN CUBIC FEET PER SECOND", **lab_kw)
fig.text(68.5 / W, fy(*panels_px[1]),
         "GAGE HEIGHT, IN FEET; WATER TEMPERATURE, IN DEGREES CELSIUS;\n"
         "AND DISSOLVED OXYGEN IN MILLIGRAMS PER LITER", **lab_kw)
fig.text(1150 / W, fy(*panels_px[1]),
         "SPECIFIC CONDUCTANCE, IN MICROSIEMENS PER CENTIMETER; AND\n"
         "TURBIDITY, IN NEPHELOMETRIC TURBIDITY UNITS", **lab_kw)
fig.text(56 / W, fy(*panels_px[2]),
         "GAGE HEIGHT, IN FEET; WATER TEMPERATURE, IN DEGREES CELSIUS;\n"
         "DISSOLVED OXYGEN, IN MILLIGRAMS PER LITER; AND TURBIDITY,\n"
         "IN NEPHELOMETRIC TURBIDITY UNITS", **lab_kw)
fig.text(1153 / W, fy(*panels_px[2]), "SPECIFIC CONDUCTANCE, IN MICROSIEMENS PER CENTIMETER", **lab_kw)

# ---- Month / year labels ----
day_px = (RIGHT - LEFT) / 10
fig.text((LEFT + 3 * day_px) / W, 1 - 1723 / H, "AUGUST", ha="center", va="center",
         fontsize=12.3, color=TXT)
fig.text(939.5 / W, 1 - 1723 / H, "SEPTEMBER", ha="center", va="center",
         fontsize=12.3, color=TXT)
fig.text((LEFT + 5 * day_px) / W, 1 - 1734.5 / H, "2001", ha="center", va="center",
         fontsize=11.3, color=TXT)

fig.savefig("out.png", dpi=100, facecolor="white")
